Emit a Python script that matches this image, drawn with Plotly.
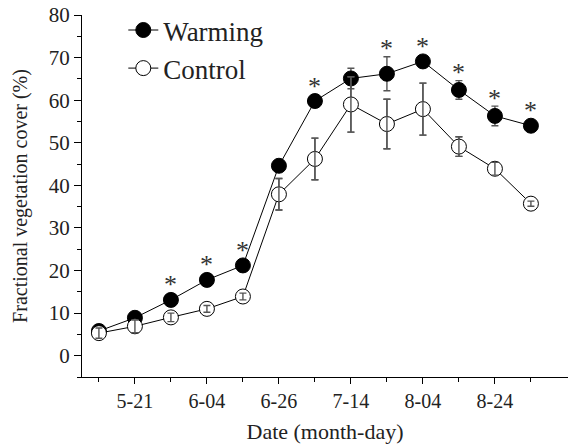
import plotly.graph_objects as go

# sampling occasions (index along the season)
sample_idx = list(range(13))
tick_idx = [1, 3, 5, 7, 9, 11]
tick_labels = ["5-21", "6-04", "6-26", "7-14", "8-04", "8-24"]

warming = [5.8, 8.9, 13.1, 17.8, 21.2, 44.6, 59.8, 65.1, 66.2, 69.1, 62.4, 56.3, 54.0]
warming_err = [1.0, 1.0, 0.8, 0.8, 0.8, 0.8, 1.0, 2.4, 4.0, 1.0, 2.2, 2.3, 0.8]
control = [5.3, 6.9, 9.0, 11.0, 13.9, 37.9, 46.2, 59.0, 54.4, 57.9, 49.1, 43.9, 35.7]
control_err = [1.2, 1.5, 1.0, 0.8, 0.8, 3.7, 4.9, 6.5, 5.8, 6.1, 2.3, 1.5, 0.6]
significant = [False, False, True, True, True, False, True, False, True, True, True, True, True]

FONT = "Liberation Serif"
TXT = "#222222"
ERR = dict(type="data", visible=True, color="#555555", thickness=1.4, width=3.5)

fig = go.Figure()
fig.add_trace(go.Scatter(
    x=sample_idx, y=warming, name="Warming", mode="lines+markers",
    line=dict(color="black", width=1),
    marker=dict(size=15, color="black", line=dict(color="black", width=1)),
    error_y=dict(array=warming_err, **ERR),
))
fig.add_trace(go.Scatter(
    x=sample_idx, y=control, name="Control", mode="lines+markers",
    line=dict(color="black", width=1),
    marker=dict(size=15, color="white", line=dict(color="black", width=1)),
    error_y=dict(array=control_err, **ERR),
))
# error bars drawn again on top of the open markers
fig.add_trace(go.Scatter(
    x=sample_idx, y=control, mode="markers", showlegend=False, hoverinfo="skip",
    marker=dict(size=1, color="rgba(0,0,0,0)"),
    error_y=dict(array=control_err, **ERR),
))

for i, flag in enumerate(significant):
    if flag:
        top = max(warming[i] + warming_err[i], warming[i] + 1.65)
        fig.add_annotation(x=sample_idx[i], y=top, text="*", showarrow=False,
                           yanchor="middle", yshift=8,
                           font=dict(family=FONT, size=26, color="#333333"))

fig.update_layout(
    width=568, height=444,
    margin=dict(l=82, r=0, t=15, b=67),
    paper_bgcolor="white", plot_bgcolor="white",
    font=dict(family=FONT, color=TXT, size=20),
    showlegend=True,
    legend=dict(x=0.085, y=1.025, xanchor="left", yanchor="top",
                font=dict(family=FONT, size=27, color=TXT),
                bgcolor="rgba(0,0,0,0)", tracegroupgap=0, itemwidth=30),
)
fig.update_xaxes(
    automargin=False,
    range=[-0.47, 13.03], tickmode="array", tickvals=tick_idx, ticktext=tick_labels,
    showgrid=False, zeroline=False, showline=True, linecolor="black", linewidth=1,
    ticks="outside", ticklen=6, tickcolor="black", tickwidth=1,
    tickfont=dict(family=FONT, size=20, color=TXT),
    minor=dict(tickmode="array", tickvals=[0, 2, 4, 6, 8, 10, 12], ticks="outside",
               ticklen=4, tickcolor="black", tickwidth=1, showgrid=False),
    title=dict(text="Date (month-day)", font=dict(family=FONT, size=22, color=TXT)),
)
fig.update_yaxes(
    automargin=False,
    range=[-5, 80], tickmode="linear", tick0=0, dtick=10,
    showgrid=False, zeroline=False, showline=True, linecolor="black", linewidth=1,
    ticks="outside", ticklen=7, tickcolor="black", tickwidth=1,
    tickfont=dict(family=FONT, size=21, color=TXT),
    minor=dict(dtick=5, tick0=0, ticks="outside", ticklen=4, tickcolor="black",
               tickwidth=1, showgrid=False),
    title=dict(text="Fractional vegetation cover (%)", font=dict(family=FONT, size=20, color=TXT)),
)

fig.write_html(
    "out.html",
    config={"displayModeBar": False},
    post_script="document.body.style.margin='0';document.body.style.overflow='hidden';",
)
